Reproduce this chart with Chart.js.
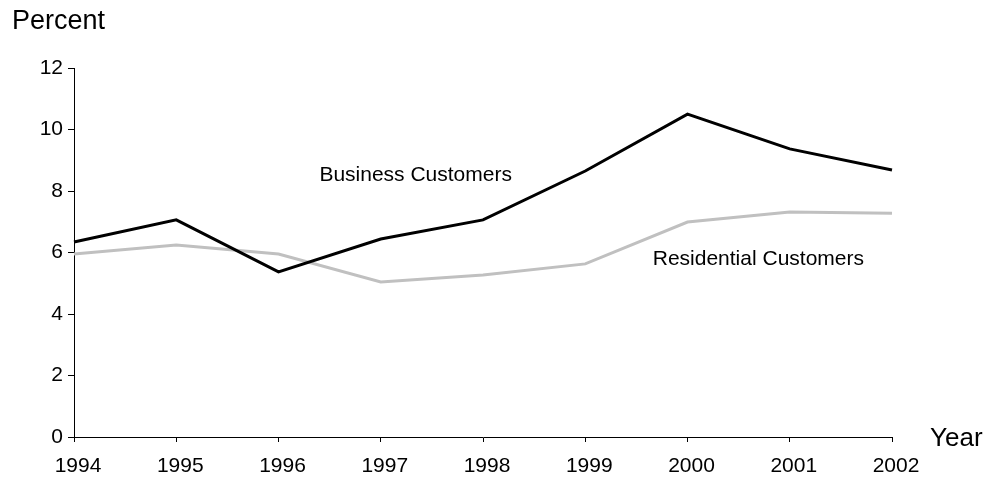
<!doctype html>
<html lang="en">
<head>
    <meta charset="utf-8">
    <title>Business and Residential Customers</title>
    <script src="https://cdn.jsdelivr.net/npm/chart.js@4/dist/chart.umd.min.js"></script>
    <style>
        html, body { margin: 0; padding: 0; background: #fff; }
        #wrap { width: 990px; height: 479px; position: relative; }
    </style>
</head>
<body>
<div id="wrap"><canvas id="myChart"></canvas></div>
<script>
    var years = ["1994", "1995", "1996", "1997", "1998", "1999", "2000", "2001", "2002"];
    var business = [6.34, 7.06, 5.37, 6.44, 7.06, 8.65, 10.5, 9.37, 8.68];
    var residential = [5.95, 6.24, 5.95, 5.04, 5.27, 5.63, 6.99, 7.32, 7.28];

    var FONT = "'Liberation Sans', Arial, sans-serif";

    // series names written next to the lines, plus the axis titles
    var labelsPlugin = {
        id: 'seriesLabels',
        afterDraw: function (chart) {
            var ctx = chart.ctx;
            var x = chart.scales.x, y = chart.scales.y;
            ctx.save();
            ctx.fillStyle = '#000';
            ctx.textBaseline = 'middle';
            ctx.textAlign = 'left';
            ctx.font = '21px ' + FONT;
            ctx.fillText('Business Customers', x.getPixelForValue(2.4), y.getPixelForValue(8.51));
            ctx.fillText('Residential Customers', x.getPixelForValue(5.66), y.getPixelForValue(5.79));
            ctx.font = '27px ' + FONT;
            ctx.fillText('Percent', 12, 22);
            ctx.font = '26px ' + FONT;
            ctx.fillText('Year', 930, 439);
            ctx.restore();
        }
    };

    var ctx = document.getElementById("myChart").getContext('2d');

    var myChart = new Chart(ctx, {
        type: 'line',
        data: {
            labels: years,
            datasets: [{
                label: 'Business Customers',
                borderColor: "#000",
                borderWidth: 3,
                pointRadius: 0,
                data: business
            }, {
                label: 'Residential Customers',
                borderColor: "#c0c0c0",
                borderWidth: 3,
                pointRadius: 0,
                data: residential
            }]
        },
        options: {
            responsive: true,
            maintainAspectRatio: false,
            animation: false,
            layout: { padding: { top: 68, right: 98, left: 0, bottom: 0 } },
            plugins: { legend: { display: false }, tooltip: { enabled: false } },
            scales: {
                x: {
                    offset: false,
                    afterFit: function (s) { s.height = 42; },
                    grid: { drawOnChartArea: false, drawTicks: true, tickLength: 5, tickColor: '#000' },
                    border: { color: '#000', width: 1 },
                    ticks: { color: '#000', font: { family: FONT, size: 21 }, padding: 12, labelOffset: 4, maxRotation: 0, autoSkip: false }
                },
                y: {
                    min: 0,
                    max: 12,
                    afterFit: function (s) { s.width = 74; },
                    grid: { drawOnChartArea: false, drawTicks: true, tickLength: 6, tickColor: '#000' },
                    border: { color: '#000', width: 1 },
                    ticks: { stepSize: 2, color: '#000', font: { family: FONT, size: 21 }, padding: 5 }
                }
            }
        },
        plugins: [labelsPlugin]
    });
</script>
</body>
</html>
